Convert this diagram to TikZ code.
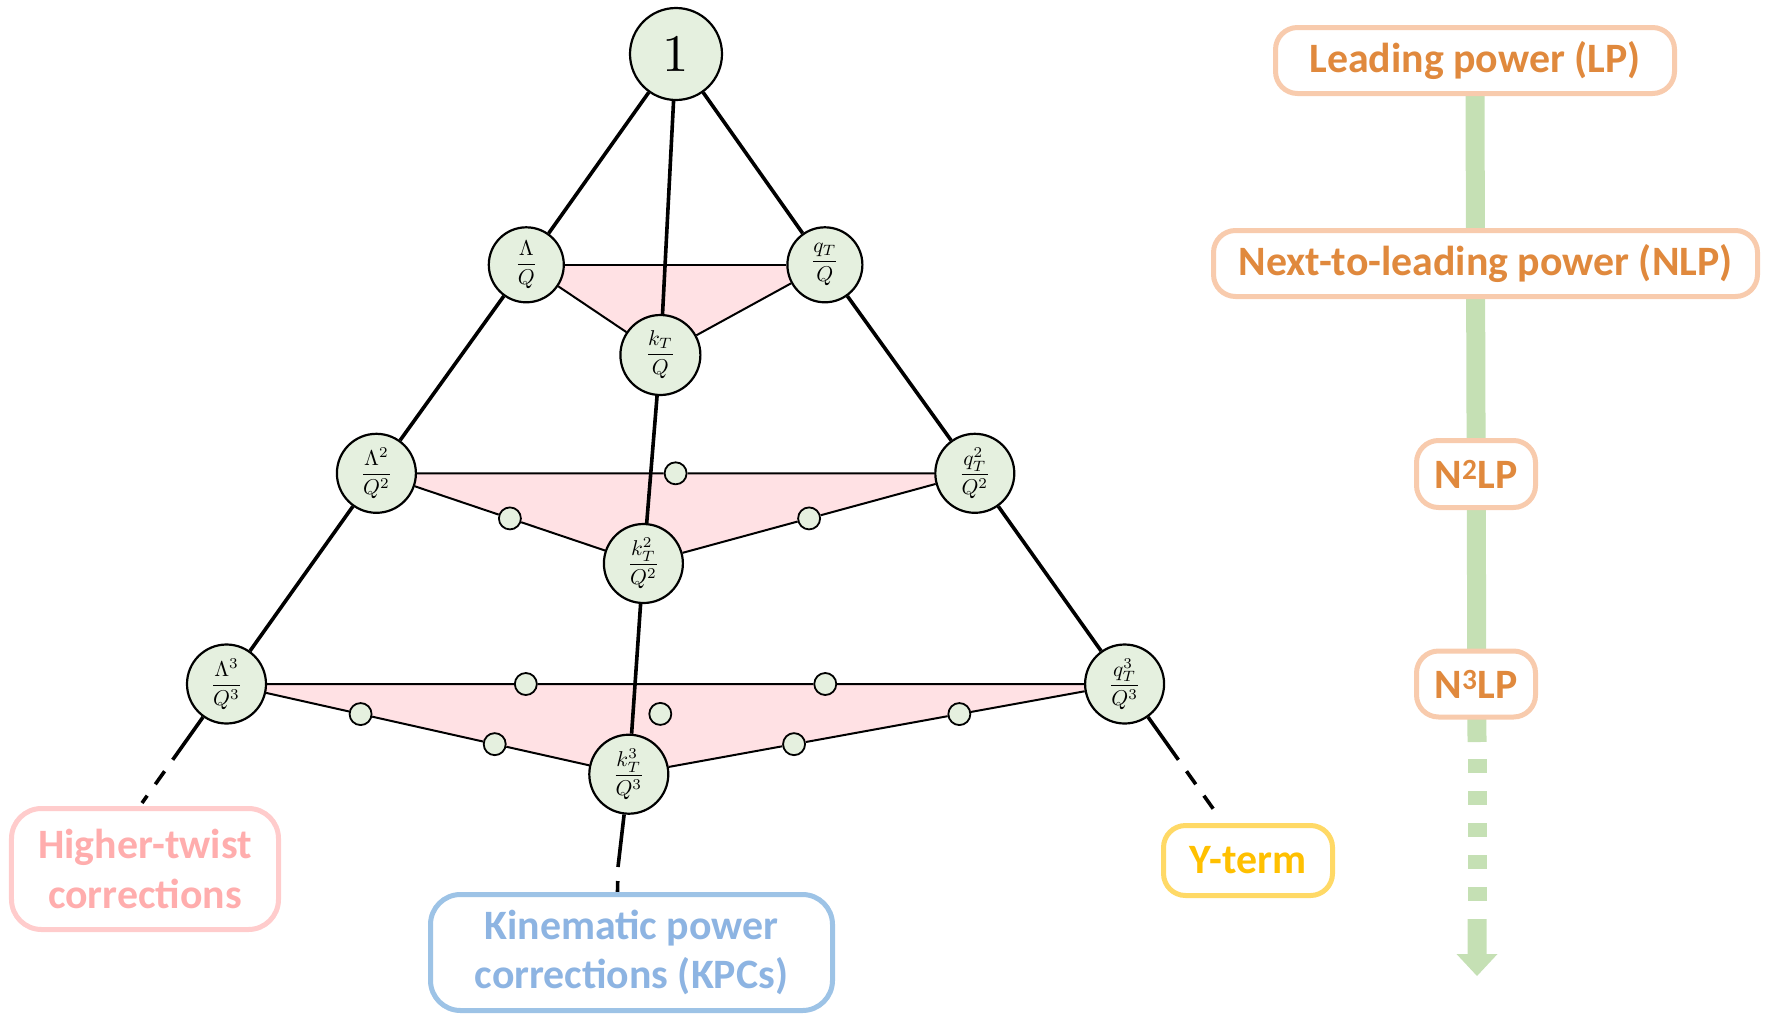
\documentclass[tikz,border=0pt]{standalone}
\usepackage{graphicx}
\usepackage[no-math]{fontspec}
\setmainfont{Carlito}
\usetikzlibrary{backgrounds,calc}

\definecolor{termfill}{HTML}{E5F0DF}
\definecolor{sheet}{HTML}{FFE1E4}
\definecolor{orangetext}{HTML}{E0893D}
\definecolor{orangeline}{HTML}{F8CBAD}
\definecolor{pinktext}{HTML}{FFADAD}
\definecolor{pinkline}{HTML}{FFCCCC}
\definecolor{bluetext}{HTML}{8DB4E2}
\definecolor{blueline}{HTML}{9DC3E6}
\definecolor{yellowtext}{HTML}{FFC000}
\definecolor{yellowline}{HTML}{FFD966}
\definecolor{bargreen}{HTML}{C5E0B4}

% math set at 10pt and enlarged, so that no font size is needed beyond the fixed ones
\newcommand\ratio[1]{\scalebox{2.15}{$\displaystyle #1$}}

\begin{document}
\begin{tikzpicture}[x=1bp,y=-1bp,
  term/.style={circle,draw=black,line width=2.2bp,fill=termfill,inner sep=0pt,
    minimum size=79bp},
  dot/.style={circle,draw=black,line width=1.8bp,fill=termfill,inner sep=0pt,
    minimum size=22bp},
  trunk/.style={line width=3.6bp,black},
  rung/.style={line width=2bp,black},
  tail/.style={line width=3.6bp,black,dash pattern=on 16bp off 14bp,dash phase=16bp},
  labelbox/.style={rounded corners=22bp,line width=5bp,fill=white,inner sep=0pt,
    align=center,font=\fontsize{42}{50}\bfseries\selectfont},
  bar/.style={line width=19bp,bargreen},
]
\useasboundingbox (0,0) rectangle (1767,1016);

% power-counting pyramid
\node[term,minimum size=92bp] (top) at (676,54) {\scalebox{5.3}{$1$}};
\node[term,minimum size=75bp] (a1) at (526.3,264.8) {\ratio{\frac{\Lambda}{Q}}};
\node[term,minimum size=75bp] (c1) at (824.9,264.8) {\ratio{\frac{q_T}{Q}}};
\node[term,minimum size=80bp] (b1) at (660.4,355) {\ratio{\frac{k_T}{Q}}};
\node[term] (a2) at (376.4,473.3) {\ratio{\frac{\Lambda^2}{Q^2}}};
\node[term] (c2) at (974.8,473.3) {\ratio{\frac{q_T^2}{Q^2}}};
\node[term] (b2) at (643.4,563.5) {\ratio{\frac{k_T^2}{Q^2}}};
\node[term] (a3) at (226.5,684) {\ratio{\frac{\Lambda^3}{Q^3}}};
\node[term] (c3) at (1124.6,684) {\ratio{\frac{q_T^3}{Q^3}}};
\node[term] (b3) at (628.8,774.2) {\ratio{\frac{k_T^3}{Q^3}}};

% mixed-order terms
\node[dot] (m2ac) at ($(a2)!0.5!(c2)$) {};
\node[dot] (m2ab) at ($(a2)!0.5!(b2)$) {};
\node[dot] (m2cb) at ($(c2)!0.5!(b2)$) {};
\node[dot] (m3ac1) at ($(a3)!0.3333!(c3)$) {};
\node[dot] (m3ac2) at ($(a3)!0.6667!(c3)$) {};
\node[dot] (m3ab1) at ($(a3)!0.3333!(b3)$) {};
\node[dot] (m3ab2) at ($(a3)!0.6667!(b3)$) {};
\node[dot] (m3cb1) at ($(c3)!0.3333!(b3)$) {};
\node[dot] (m3cb2) at ($(c3)!0.6667!(b3)$) {};
\node[dot] (m3mid) at (660.3,713.9) {};

% labels
\node[labelbox,draw=pinkline,text=pinktext,minimum width=267bp,minimum height=121bp,
  rounded corners=30bp] (ht) at (145,869) {Higher-twist\\corrections};
\node[labelbox,draw=blueline,text=bluetext,minimum width=402bp,minimum height=116bp,
  rounded corners=30bp] (kpc) at (631.5,952.5) {Kinematic power\\corrections (KPCs)};
\node[labelbox,draw=yellowline,text=yellowtext,minimum width=169bp,minimum height=70bp]
  (yt) at (1248,860.5) {Y-term};

\node[labelbox,draw=orangeline,text=orangetext,minimum width=399bp,minimum height=66bp]
  (lp) at (1475,60.5) {Leading power (LP)};
\node[labelbox,draw=orangeline,text=orangetext,minimum width=544bp,minimum height=66bp]
  (nlp) at (1485.5,263.5) {Next-to-leading power (NLP)};
\node[labelbox,draw=orangeline,text=orangetext,minimum width=119bp,minimum height=67bp]
  (n2lp) at (1476,474) {N\textsuperscript{2}LP};
\node[labelbox,draw=orangeline,text=orangetext,minimum width=119bp,minimum height=66bp]
  (n3lp) at (1476,684) {N\textsuperscript{3}LP};

% free ends of the open edges
\coordinate (aS) at (172.7,759.8);
\coordinate (aE) at (142,803);
\coordinate (cS) at (1178.4,759.8);
\coordinate (cE) at (1215.5,812);
\coordinate (bS) at (618,867);
\coordinate (bE) at (617.5,892);
\coordinate (barS) at (1477,742);
\coordinate (dashS) at (1477,759);
\coordinate (dashE) at (1477,902);

\begin{scope}[on background layer]
  % shaded sheets between the three directions
  \fill[sheet] (a1.center) -- (c1.center) -- (b1.center) -- cycle;
  \fill[sheet] (a2.center) -- (c2.center) -- (b2.center) -- cycle;
  \fill[sheet] (a3.center) -- (c3.center) -- (b3.center) -- cycle;
  % rungs
  \draw[rung] (a1) -- (c1);
  \draw[rung] (a1) -- (b1);
  \draw[rung] (c1) -- (b1);
  \draw[rung] (a2) -- (m2ac) -- (c2);
  \draw[rung] (a2) -- (m2ab) -- (b2);
  \draw[rung] (c2) -- (m2cb) -- (b2);
  \draw[rung] (a3) -- (m3ac1) -- (m3ac2) -- (c3);
  \draw[rung] (a3) -- (m3ab1) -- (m3ab2) -- (b3);
  \draw[rung] (c3) -- (m3cb1) -- (m3cb2) -- (b3);
  % trunks
  \draw[trunk] (top) -- (a1) -- (a2) -- (a3) -- (aS);
  \draw[trunk] (top) -- (c1) -- (c2) -- (c3) -- (cS);
  \draw[trunk] (top) -- (b1) -- (b2) -- (b3) -- (bS);
  \draw[tail] (aS) -- (aE);
  \draw[tail] (cS) -- (cE);
  \draw[tail] (bS) -- (bE);
  % power-expansion axis
  \draw[bar] (lp.south) -- (barS);
  \draw[bar,dash pattern=on 14bp off 18bp] (dashS) -- (dashE);
  \fill[bargreen] (1467.5,919) -- (1486.5,919) -- (1486.5,954) -- (1497.5,954)
    -- (1477,976) -- (1456.5,954) -- (1467.5,954) -- cycle;
\end{scope}
\end{tikzpicture}
\end{document}
